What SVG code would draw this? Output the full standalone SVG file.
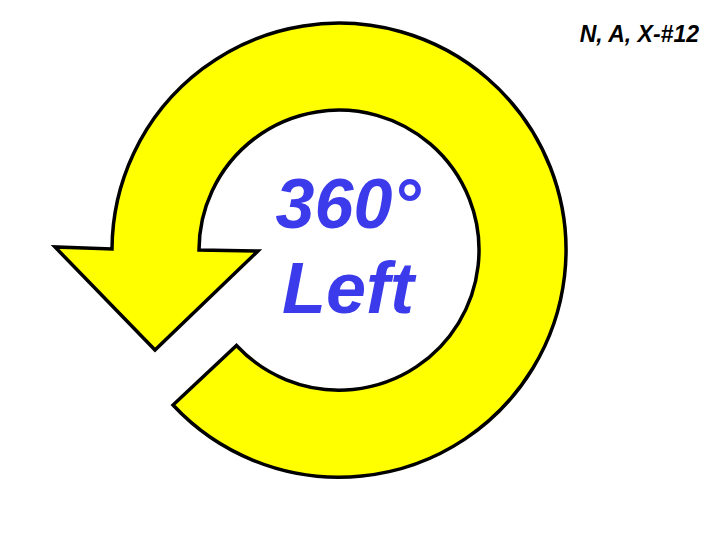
<svg xmlns="http://www.w3.org/2000/svg" width="720" height="540" viewBox="0 0 720 540">
<style>
.arrow{fill:#FFFF00;stroke:#000;stroke-width:3.5;stroke-linejoin:miter}
.big{font-family:"Liberation Sans",Arial,sans-serif;font-weight:bold;font-style:italic;font-size:70px;fill:#3B3BEB;text-anchor:middle}
.tag{font-family:"Liberation Sans",Arial,sans-serif;font-weight:bold;font-style:italic;font-size:23px;fill:#000;text-anchor:end}
</style>
<rect width="720" height="540" fill="#fff"/>
<g id="arrow">
<path class="arrow" d="M112,249 A227,227 0 1 1 173,405 L236.5,345.5 A140,140 0 1 0 199,250 L258,251 L155,350 L55,247 Z"/>
</g>
<g id="label">
<text class="big" x="348" y="228">360°</text>
<text class="big" x="348" y="313" style="font-size:72px">Left</text>
</g>
<g id="tag">
<text class="tag" x="699" y="42">N, A, X-#12</text>
</g>
</svg>
